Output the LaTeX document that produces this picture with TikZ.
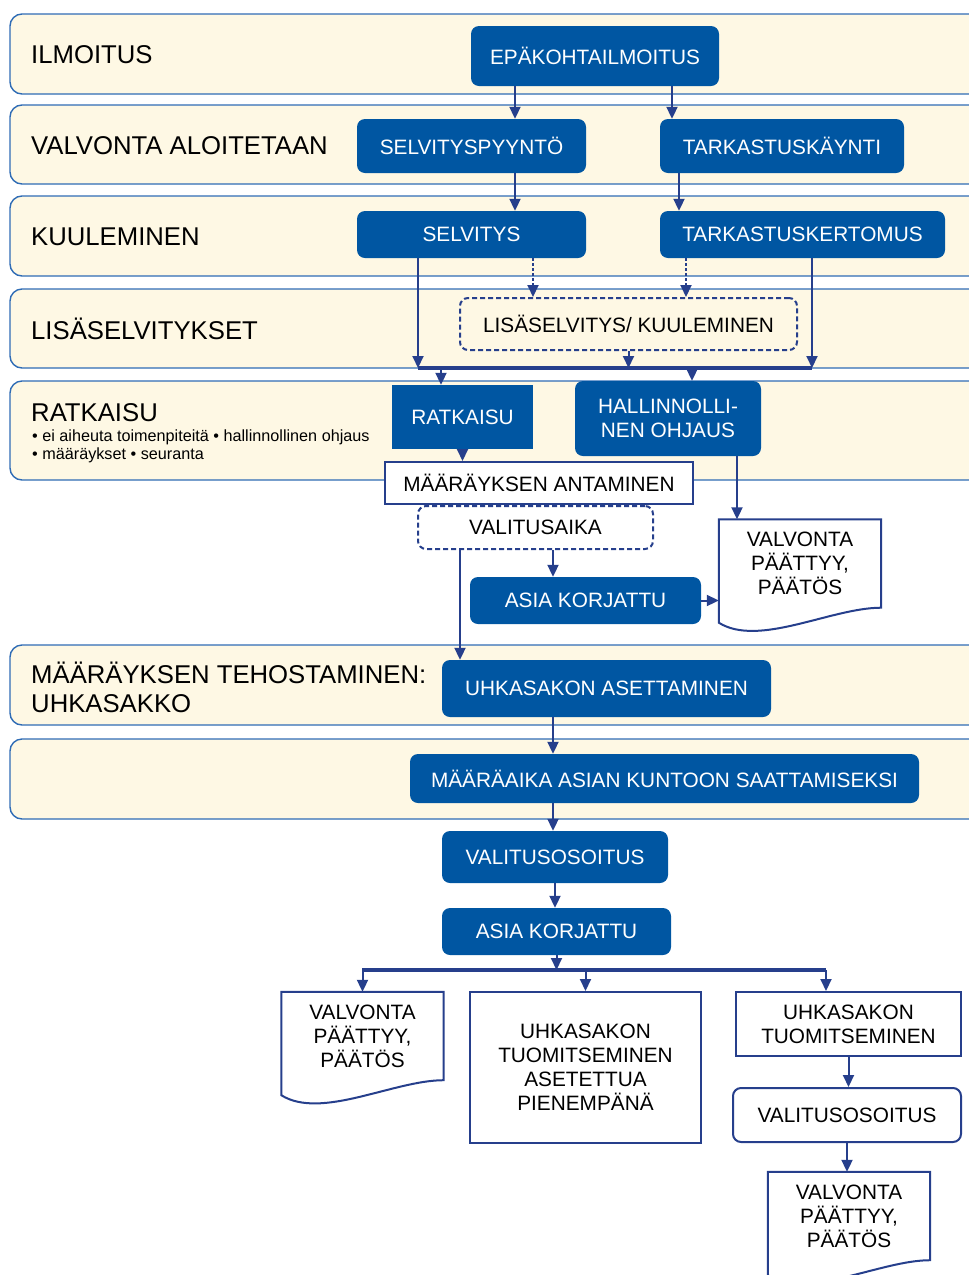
\documentclass[tikz,border=0pt]{standalone}
\usepackage{fontspec}
\setmainfont{Liberation Sans}
\usetikzlibrary{arrows.meta}
\definecolor{bandfill}{HTML}{FEF8E4}
\definecolor{bandline}{HTML}{2F6CB5}
\definecolor{boxblue}{HTML}{0056A2}
\definecolor{navy}{HTML}{263F8C}
\begin{document}
\begin{tikzpicture}[x=1pt,y=-1pt,
  band/.style={draw=bandline,line width=1.4pt,fill=bandfill,rounded corners=12pt},
  phase/.style={anchor=west,inner sep=0pt,align=left,font=\fontsize{25.7}{29}\selectfont},
  note/.style={anchor=west,inner sep=0pt,font=\fontsize{16.2}{18}\selectfont},
  bluebox/.style={fill=boxblue,text=white,rounded corners=8pt,inner sep=0pt,align=center,font=\fontsize{20.8}{24}\selectfont},
  plainbox/.style={draw=navy,line width=2pt,fill=white,inner sep=0pt,align=center,font=\fontsize{20.8}{24}\selectfont},
  dashbox/.style={plainbox,rounded corners=8pt,dash pattern=on 5pt off 3pt},
  docbox/.style={inner sep=0pt,align=center,minimum width=162pt,minimum height=88pt,font=\fontsize{20.8}{24}\selectfont},
  docline/.style={draw=navy,line width=2pt},
  arr/.style={draw=navy,line width=2pt,-{Triangle[width=11pt,length=12pt]}},
  dasharr/.style={arr,dash pattern=on 3pt off 2pt},
  thickbar/.style={draw=navy,line width=3.5pt}]
\useasboundingbox (0,0) rectangle (969,1275);

% phases
\draw[band] (10,14) rectangle (1000,94);
\draw[band] (10,105) rectangle (1000,184);
\draw[band] (10,196) rectangle (1000,276);
\draw[band] (10,289) rectangle (1000,368);
\draw[band] (10,381) rectangle (1000,480);
\draw[band] (10,645) rectangle (1000,725);
\draw[band] (10,739) rectangle (1000,819);
\node[phase] (p1) at (31,55) {ILMOITUS};
\node[phase] (p2) at (31,146) {VALVONTA ALOITETAAN};
\node[phase] (p3) at (31,237) {KUULEMINEN};
\node[phase] (p4) at (31,329) {LISÄSELVITYKSET};
\node[phase] (p5) at (31,413) {RATKAISU};
\node[note] (n1) at (32,437) {• ei aiheuta toimenpiteitä • hallinnollinen ohjaus};
\node[note] (n2) at (32,455) {• määräykset • seuranta};
\node[phase] (p6) at (31,687.5) {MÄÄRÄYKSEN TEHOSTAMINEN:\\UHKASAKKO};

% steps
\node[bluebox,minimum width=248pt,minimum height=60pt] (epa) at (595,56) {EPÄKOHTAILMOITUS};
\node[bluebox,minimum width=229pt,minimum height=54pt] (spyy) at (471.5,146) {SELVITYSPYYNTÖ};
\node[bluebox,minimum width=244pt,minimum height=54pt] (tkay) at (782,146) {TARKASTUSKÄYNTI};
\node[bluebox,minimum width=229pt,minimum height=47pt] (selv) at (471.5,234.5) {SELVITYS};
\node[bluebox,minimum width=285pt,minimum height=47pt] (tker) at (802.5,234.5) {TARKASTUSKERTOMUS};
\node[dashbox,fill=none,minimum width=337pt,minimum height=52pt] (lisa) at (628.5,324) {LISÄSELVITYS/ KUULEMINEN};
\node[bluebox,rounded corners=0pt,minimum width=141pt,minimum height=64pt] (ratk) at (462.5,417) {RATKAISU};
\node[bluebox,minimum width=186pt,minimum height=75pt] (hall) at (668,418.5) {HALLINNOLLI-\\NEN OHJAUS};
\node[plainbox,minimum width=308pt,minimum height=42pt] (maar) at (539,483) {MÄÄRÄYKSEN ANTAMINEN};
\node[dashbox,minimum width=235pt,minimum height=43pt] (aika) at (535.5,527.5) {VALITUSAIKA};
\node[bluebox,minimum width=231pt,minimum height=47pt] (korj1) at (585.5,600.5) {ASIA KORJATTU};
\node[docbox] (d1) at (800,563.5) {VALVONTA\\PÄÄTTYY,\\PÄÄTÖS};
\node[bluebox,minimum width=329pt,minimum height=57pt] (uhka) at (606.5,688.5) {UHKASAKON ASETTAMINEN};
\node[bluebox,minimum width=509pt,minimum height=49pt] (maika) at (664.5,778.5) {MÄÄRÄAIKA ASIAN KUNTOON SAATTAMISEKSI};
\node[bluebox,minimum width=226pt,minimum height=52pt] (vos1) at (555,857) {VALITUSOSOITUS};
\node[bluebox,minimum width=229pt,minimum height=47pt] (korj2) at (556.5,931.5) {ASIA KORJATTU};
\node[docbox] (d2) at (362.5,1036) {VALVONTA\\PÄÄTTYY,\\PÄÄTÖS};
\node[plainbox,minimum width=231pt,minimum height=151pt] (tuom1) at (585.5,1067.5) {UHKASAKON\\TUOMITSEMINEN\\ASETETTUA\\PIENEMPÄNÄ};
\node[plainbox,minimum width=225pt,minimum height=64pt] (tuom2) at (848.5,1024) {UHKASAKON\\TUOMITSEMINEN};
\node[plainbox,rounded corners=8pt,minimum width=228pt,minimum height=54pt] (vos2) at (847,1115) {VALITUSOSOITUS};
\node[docbox] (d3) at (849,1216) {VALVONTA\\PÄÄTTYY,\\PÄÄTÖS};

% document outlines
\foreach \d in {d1,d2,d3}
  \draw[docline] (\d.north west) -- (\d.north east) -- (\d.south east)
    .. controls +(-50,0) and +(40,25) .. ([yshift=-15pt]\d.south west) -- cycle;

% bars
\coordinate (b1L) at (418,368);
\coordinate (b1R) at (812,368);
\coordinate (b2L) at (362,970);
\coordinate (b2R) at (826,970);
\draw[thickbar] (b1L) -- (b1R);
\draw[thickbar] (b2L) -- (b2R);

% connectors
\draw[arr] ([xshift=-80pt]epa.south) -- ([xshift=-80pt]epa.south |- spyy.north);
\draw[arr] ([xshift=77pt]epa.south) -- ([xshift=77pt]epa.south |- tkay.north);
\draw[arr] ([xshift=43.5pt]spyy.south) -- ([xshift=43.5pt]spyy.south |- selv.north);
\draw[arr] ([xshift=-103pt]tkay.south) -- ([xshift=-103pt]tkay.south |- tker.north);
\draw[arr] (b1L |- selv.south) -- (b1L);
\draw[arr] (b1R |- tker.south) -- (b1R);
\draw[dasharr] ([xshift=61.5pt]selv.south) -- ([xshift=61.5pt]selv.south |- lisa.north);
\draw[dasharr] ([xshift=-116.5pt]tker.south) -- ([xshift=-116.5pt]tker.south |- lisa.north);
\draw[arr] (lisa.south) -- (lisa.south |- b1L);
\draw[arr] ([xshift=-21.5pt]ratk.north |- b1L) -- ([xshift=-21.5pt]ratk.north);
\draw[arr] ([xshift=24pt]hall.north |- b1L) -- ([xshift=24pt]hall.north);
\draw[arr] (ratk.south) -- (ratk.south |- maar.north);
\draw[arr] ([xshift=69pt]hall.south) -- ([xshift=69pt]hall.south |- d1.north);
\draw[arr] ([xshift=17.5pt]aika.south) -- ([xshift=17.5pt]aika.south |- korj1.north);
\draw[arr] (korj1.east) -- (korj1.east -| d1.west);
\draw[arr] ([xshift=-75.5pt]aika.south) -- ([xshift=-75.5pt]aika.south |- uhka.north);
\draw[arr] ([xshift=-53.5pt]uhka.south) -- ([xshift=-53.5pt]uhka.south |- maika.north);
\draw[arr] ([xshift=-2pt]vos1.north |- maika.south) -- ([xshift=-2pt]vos1.north);
\draw[arr] (vos1.south) -- (vos1.south |- korj2.north);
\draw[arr] (korj2.south) -- (korj2.south |- b2L);
\draw[arr] (d2.north |- b2L) -- (d2.north);
\draw[arr] (tuom1.north |- b2L) -- (tuom1.north);
\draw[arr] (b2R) -- (b2R |- tuom2.north);
\draw[arr] (tuom2.south) -- (tuom2.south |- vos2.north);
\draw[arr] (vos2.south) -- (vos2.south |- d3.north);
\end{tikzpicture}
\end{document}
